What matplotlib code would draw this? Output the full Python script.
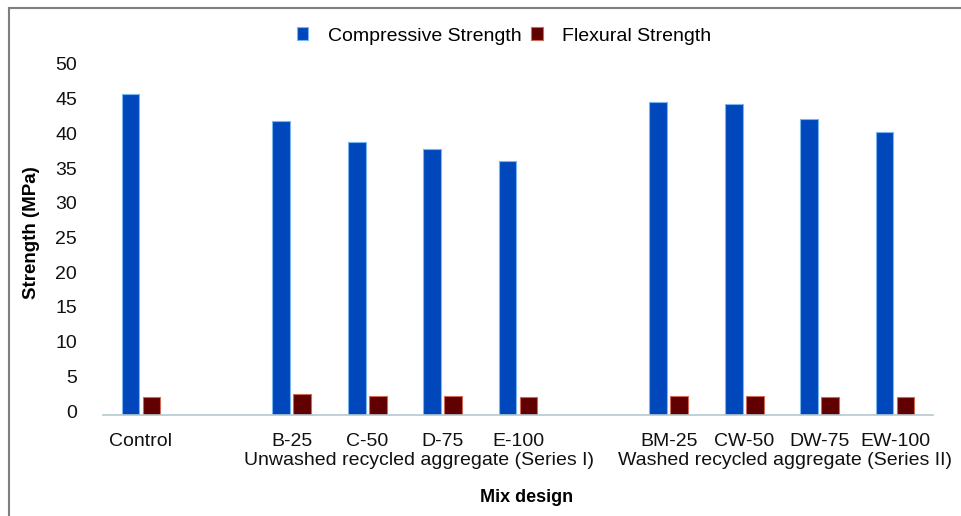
import matplotlib
matplotlib.use('Agg')
import matplotlib.pyplot as plt
import matplotlib.transforms as mtransforms
import numpy as np
from matplotlib.lines import Line2D

plt.rcParams['font.family'] = ['Liberation Sans', 'DejaVu Sans']

# categories (empty strings are the spacer slots between the series)
categories = ['Control', '', 'B-25', 'C-50', 'D-75', 'E-100', '',
              'BM-25', 'CW-50', 'DW-75', 'EW-100']
series_names = ['Unwashed recycled aggregate (Series I)',
                'Washed recycled aggregate (Series II)']
compressive = [46.3, np.nan, 42.4, 39.3, 38.3, 36.6, np.nan, 45.1, 44.8, 42.6, 40.8]
flexural = [2.6, np.nan, 3.0, 2.8, 2.8, 2.6, np.nan, 2.8, 2.8, 2.6, 2.6]

W, H = 961, 516
fig = plt.figure(figsize=(W / 100, H / 100), dpi=100)
ax = fig.add_axes([103.3 / W, 1 - 415 / H, (932.7 - 103.3) / W, (415 - 68) / H])

x = np.arange(len(categories))
bw = 0.235
ax.bar(x - 0.14, compressive, bw, color='#0047bb', edgecolor='#7ab6ee', linewidth=0.8,
       label='Compressive Strength')
ax.bar(x + 0.14, flexural, bw, color='#600000', edgecolor='#d06a55', linewidth=0.8,
       label='Flexural Strength')

ax.set_xlim(-0.5, len(categories) - 0.5)
ax.set_ylim(0, 50)
ax.set_yticks(np.arange(0, 51, 5))
ax.set_xticks(x)
ax.set_xticklabels(categories, fontsize=14, color='#111111')
ax.tick_params(axis='y', length=0, pad=19, labelsize=14, labelcolor='#111111')
ax.tick_params(axis='x', length=0, pad=13)
# reference draws the y labels a few pixels above their ticks
shift = mtransforms.ScaledTranslation(0, 4 / 100, fig.dpi_scale_trans)
for lab in ax.get_yticklabels():
    lab.set_transform(lab.get_transform() + shift)
for s in ['top', 'right', 'left']:
    ax.spines[s].set_visible(False)
ax.spines['bottom'].set_color('#b4c8d0')
ax.spines['bottom'].set_linewidth(1.2)

# second line of the category labels: one phrase per series
trans = mtransforms.blended_transform_factory(ax.transData, fig.transFigure)
for xc, name in zip([3.687, 8.535], series_names):
    ax.text(xc, 1 - 452 / H, name, transform=trans, ha='center', va='top',
            fontsize=14, color='#111111')

fig.text(32 / W, 1 - 233 / H, 'Strength (MPa)', rotation=90, fontsize=13.5,
         fontweight='bold', ha='center', va='center')
fig.text(527 / W, 1 - 497 / H, 'Mix design', fontsize=13, fontweight='bold',
         ha='center', va='center')

fig.legend(loc='center', bbox_to_anchor=(504 / W, 1 - 36 / H), ncol=2, frameon=False,
           fontsize=14, handlelength=0.6, handleheight=0.6, handletextpad=1.0,
           columnspacing=0.5)

# figure frame (left and top edges visible in the reference)
fig.add_artist(Line2D([9 / W, 9 / W], [0, 1 - 8 / H], transform=fig.transFigure,
                      color='#7f7f7f', linewidth=1.5))
fig.add_artist(Line2D([9 / W, 1], [1 - 8 / H, 1 - 8 / H], transform=fig.transFigure,
                      color='#7f7f7f', linewidth=1.5))

fig.savefig('out.png', dpi=100)
